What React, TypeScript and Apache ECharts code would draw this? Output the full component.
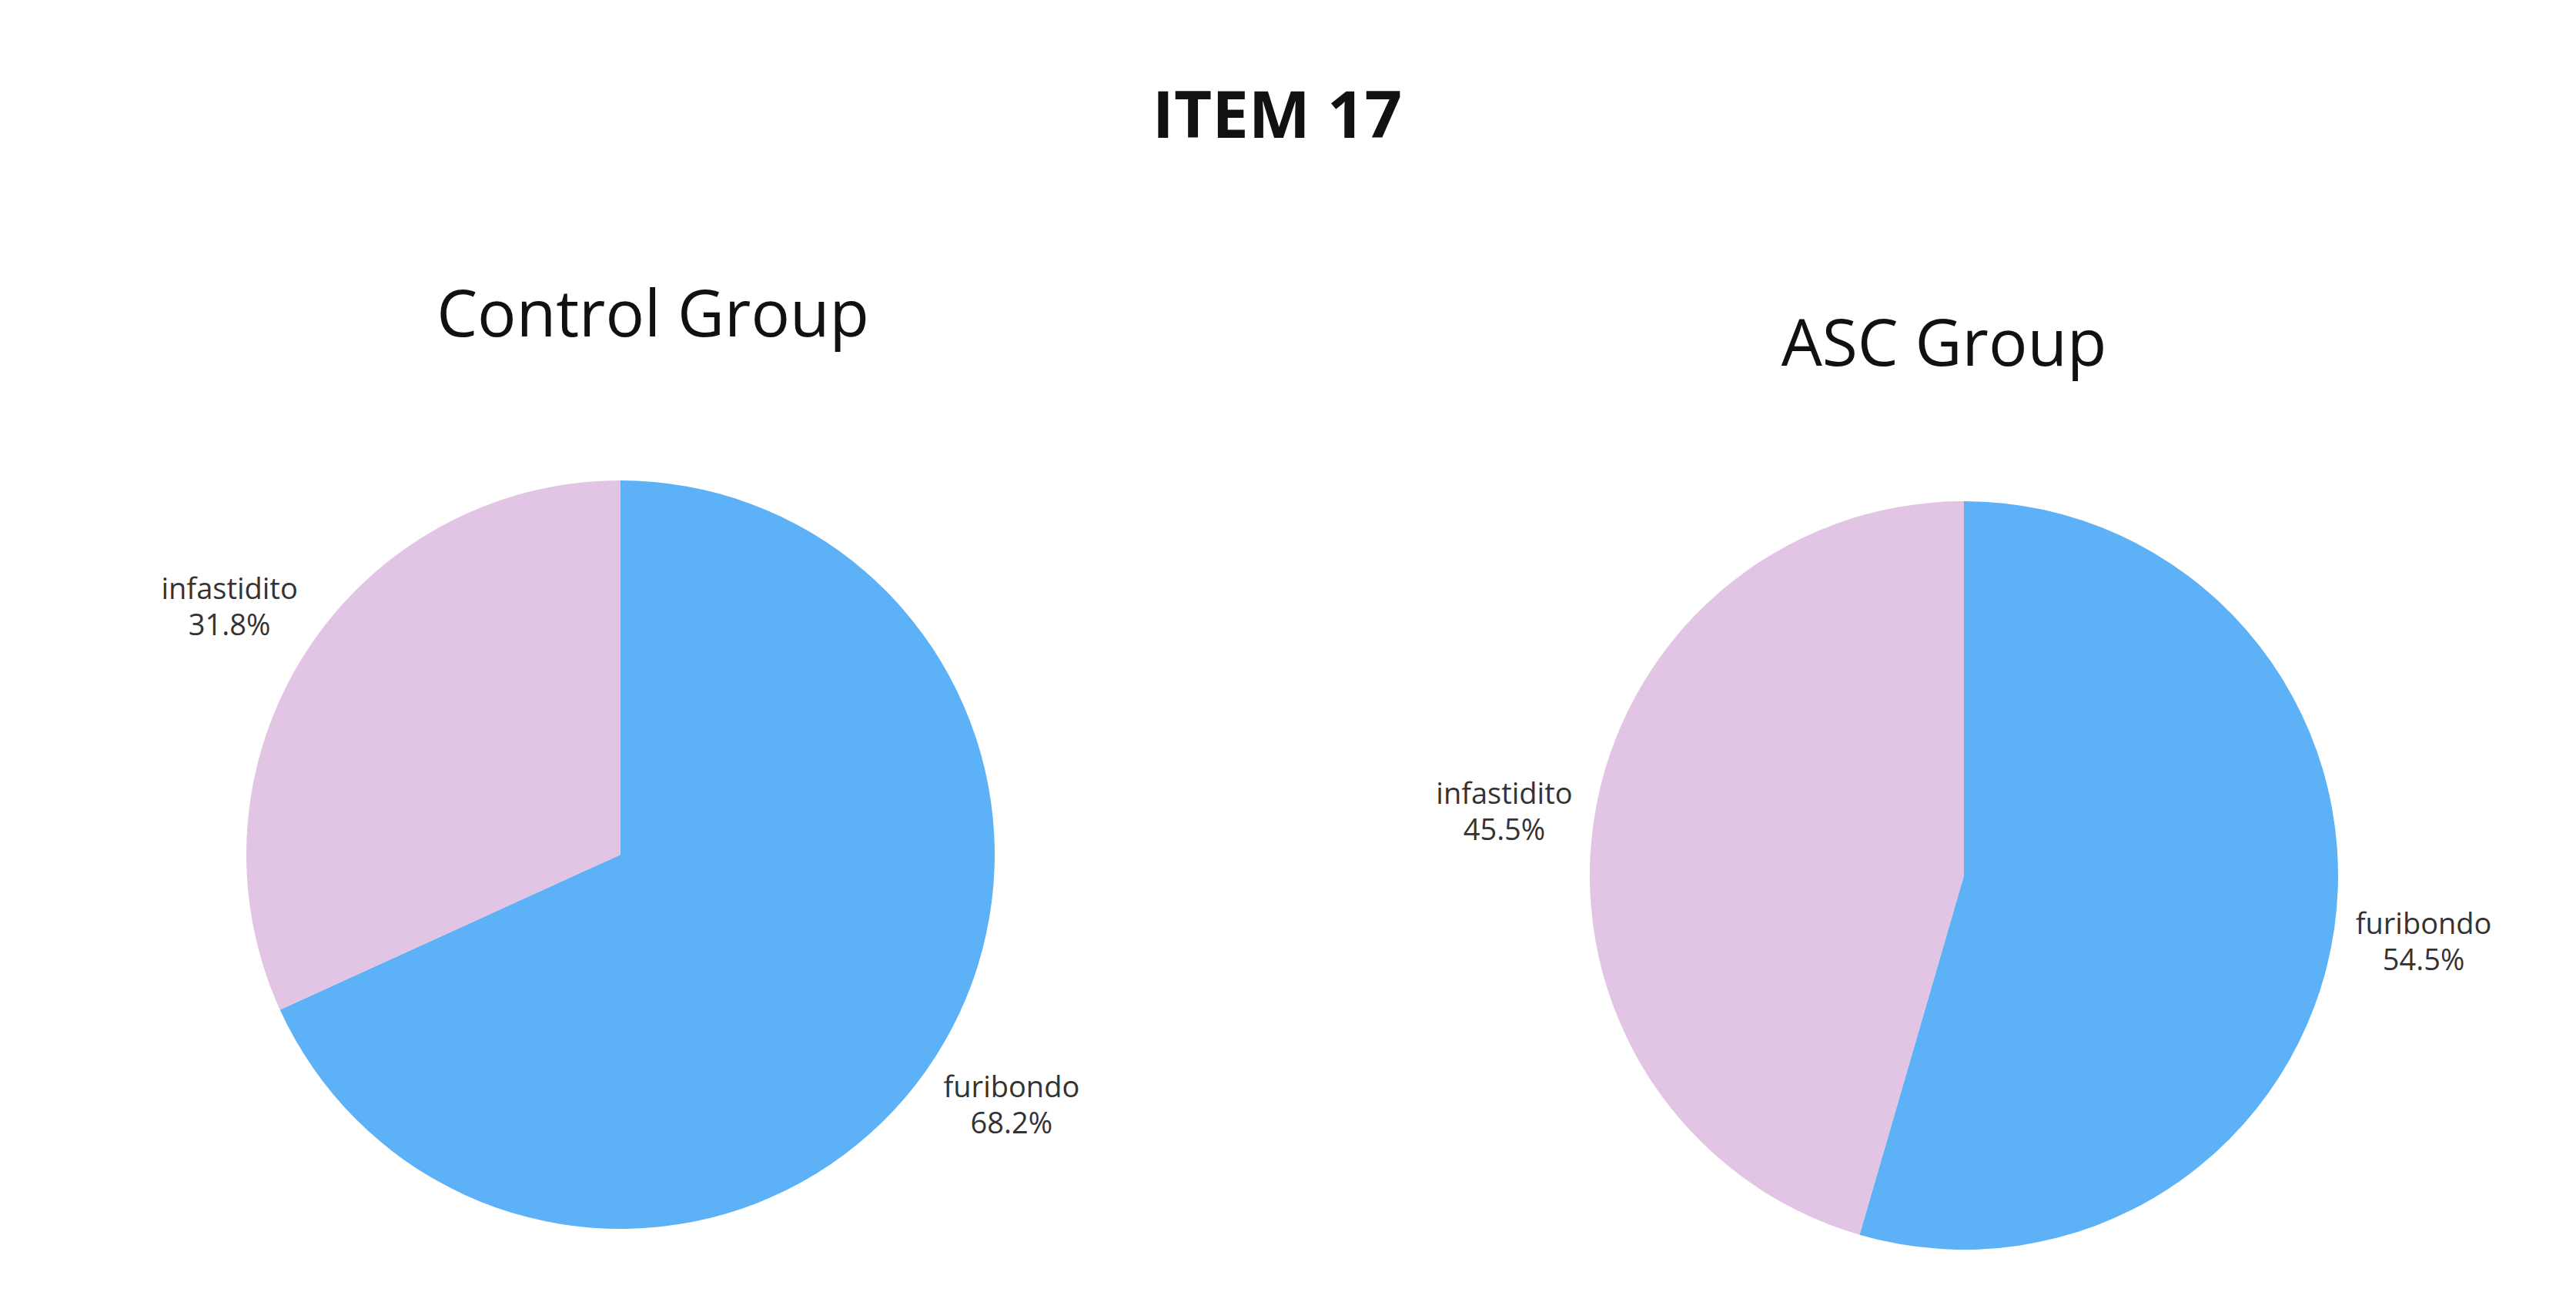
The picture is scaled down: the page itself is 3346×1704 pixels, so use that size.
import React, { useEffect, useRef } from "react";
import * as echarts from "echarts";

const categories = ["furibondo", "infastidito"];
const controlValues = [68.2, 31.8];
const ascValues = [54.5, 45.5];
const colors = ["#5DB1F7", "#E2C4E4"];
const mainTitle = "ITEM 17";
const groupTitles = ["Control Group", "ASC Group"];

const FONT = "'Open Sans', 'Noto Sans', sans-serif";

function makeData(values: number[]) {
  return categories.map((name, i) => ({
    name,
    value: values[i],
    itemStyle: { color: colors[i] },
  }));
}

function labelLayout(p: any) {
  const r = p.labelRect;
  const ax =
    p.align === "right" ? r.x + r.width : p.align === "left" ? r.x : r.x + r.width / 2;
  return { x: ax, y: r.y + r.height / 2, align: "center", verticalAlign: "middle" };
}

function pieSeries(values: number[], center: [number, number]) {
  return {
    type: "pie",
    radius: 486,
    center,
    startAngle: 90,
    clockwise: true,
    avoidLabelOverlap: false,
    data: makeData(values),
    label: {
      show: true,
      position: "outside",
      formatter: (p: any) => `${p.name}\n${p.value.toFixed(1)}%`,
      fontFamily: FONT,
      fontSize: 38,
      lineHeight: 47,
      color: "#333",
      align: "center",
    },
    labelLine: { show: false, length: 112, length2: 0 },
    labelLayout,
    emphasis: { disabled: true },
  };
}

export default function App() {
  const ref = useRef<HTMLDivElement>(null);
  useEffect(() => {
    document.body.style.margin = "0";
    const chart = echarts.init(ref.current!, undefined, { renderer: "svg" });
    chart.setOption({
      animation: false,
      backgroundColor: "#ffffff",
      title: [
        {
          text: mainTitle,
          left: 1654,
          top: 98,
          textAlign: "center",
          textStyle: { fontFamily: FONT, fontSize: 85, fontWeight: "bold", color: "#111" },
        },
        {
          text: groupTitles[0],
          left: 843,
          top: 357,
          textAlign: "center",
          textStyle: { fontFamily: FONT, fontSize: 84, fontWeight: "normal", color: "#111" },
        },
        {
          text: groupTitles[1],
          left: 2520,
          top: 395,
          textAlign: "center",
          textStyle: { fontFamily: FONT, fontSize: 84, fontWeight: "normal", color: "#111" },
        },
      ],
      series: [pieSeries(controlValues, [806, 1110]), pieSeries(ascValues, [2551, 1137])],
    });
    return () => chart.dispose();
  }, []);
  return <div ref={ref} style={{ width: 3346, height: 1704 }} />;
}
